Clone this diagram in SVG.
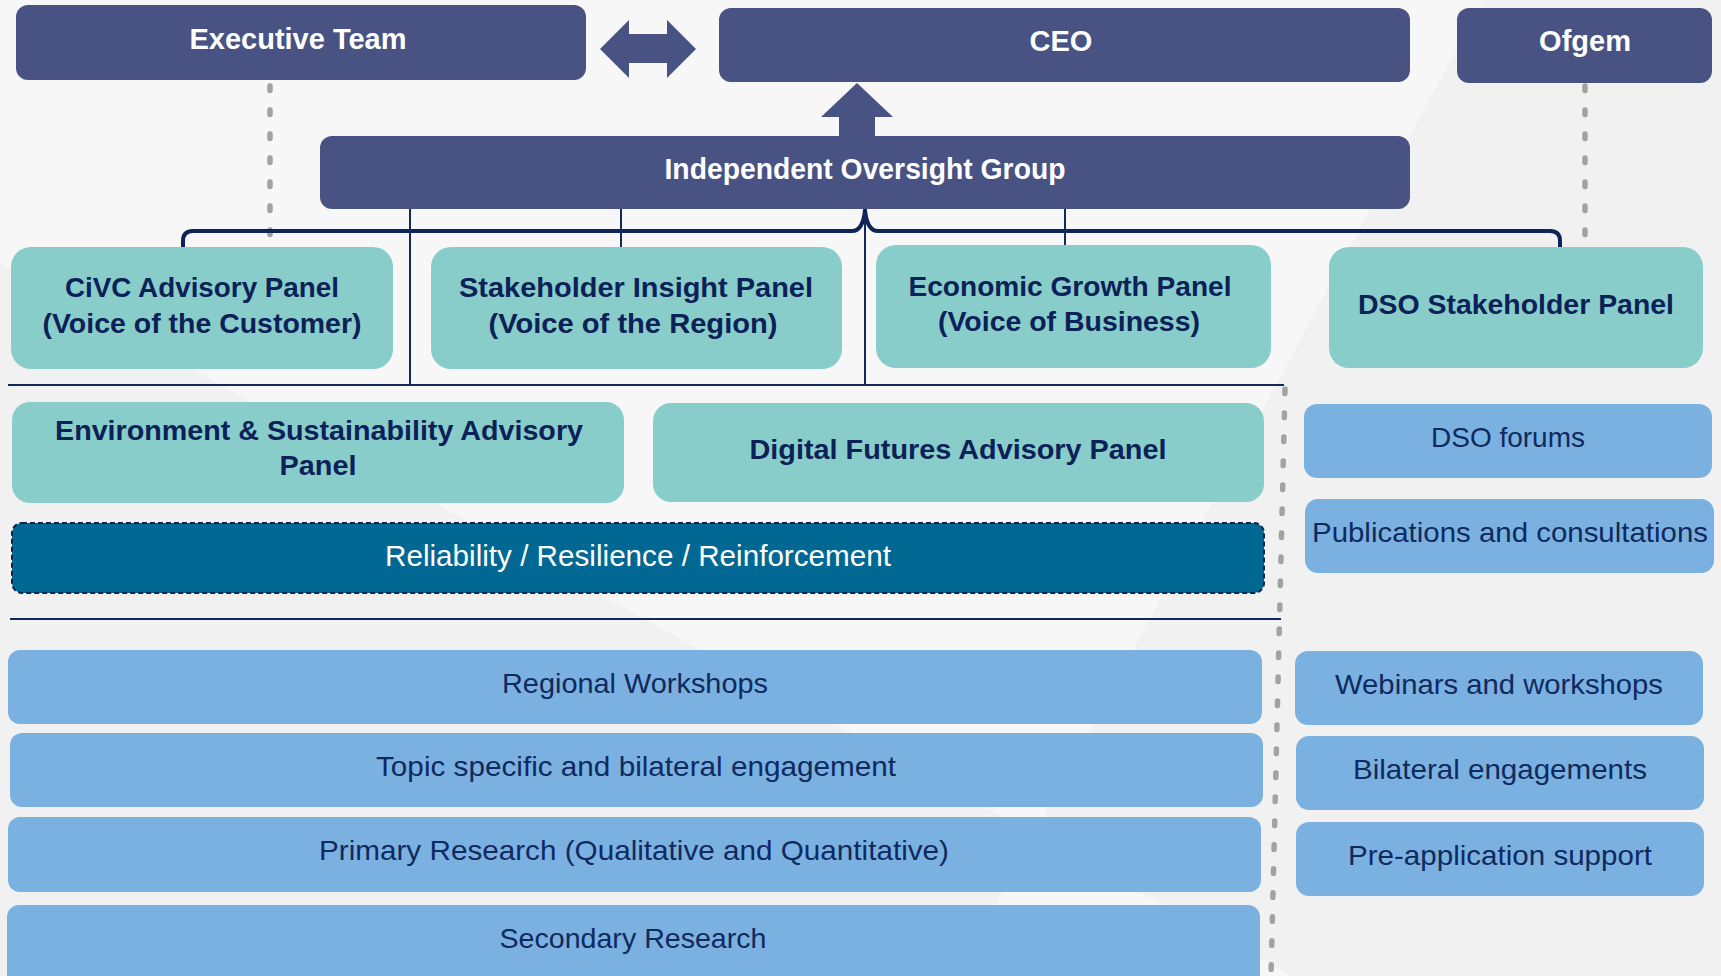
<svg xmlns="http://www.w3.org/2000/svg" width="1721" height="976" viewBox="0 0 1721 976">
  <style>
    .hdr { fill: #485383; }
    .teal { fill: #89cdca; }
    .sky { fill: #7bb1e0; }
    .t-hdr { font-family: "Liberation Sans", Arial, sans-serif; font-weight: bold; font-size: 29px; fill: #ffffff; text-anchor: middle; }
    .t-panel { font-family: "Liberation Sans", Arial, sans-serif; font-weight: bold; font-size: 28px; fill: #0b2157; text-anchor: middle; }
    .t-item { font-family: "Liberation Sans", Arial, sans-serif; font-size: 28px; fill: #0f2a5e; text-anchor: middle; }
    .t-rel { font-family: "Liberation Sans", Arial, sans-serif; font-size: 29px; fill: #ffffff; text-anchor: middle; }
    .link { fill: none; stroke: #12295c; stroke-width: 2; }
    .brace { fill: none; stroke: #0e2458; stroke-width: 4; stroke-linejoin: round; }
    .dots { fill: none; stroke: #a2a2a2; stroke-width: 5.5; stroke-linecap: round; stroke-dasharray: 4.5 19.5; }
  </style>

  <!-- background with soft diagonal panels -->
  <rect x="0" y="0" width="1721" height="976" fill="#f1f1f1"/>
  <polygon points="0,0 1483,0 1034,834 0,263" fill="#f7f7f7"/>
  <polygon points="1034,834 1292,976 958,976" fill="#f7f7f7"/>

  <!-- connectors -->
  <g id="connectors">
    <path class="dots" d="M270,86 L270,236"/>
    <path class="dots" d="M1585,86 L1585,236"/>
    <path class="dots" d="M1285,389 L1271,976"/>
    <path class="brace" d="M183,248 L183,241 Q183,231 193,231 L852,231 Q863,231 865,210 Q867,231 878,231 L1550,231 Q1560,231 1560,241 L1560,248"/>
    <path class="link" d="M410,209 L410,386"/>
    <path class="link" d="M621,209 L621,247"/>
    <path class="link" d="M1065,209 L1065,247"/>
    <path class="link" d="M865,212 L865,386"/>
    <path class="link" stroke-width="2.5" d="M8,385 L1284,385"/>
    <path class="link" stroke-width="2.5" d="M10,619 L1281,619"/>
    <polygon fill="#485383" points="600,49 629,20 629,34 667,34 667,20 696,49 667,78 667,63 629,63 629,78"/>
    <polygon fill="#485383" points="857,83 893,117 875,117 875,137 839,137 839,117 821,117"/>
  </g>

  <!-- leadership -->
  <g id="executive-team">
    <rect class="hdr" x="16" y="5" width="570" height="75" rx="12"/>
    <text class="t-hdr" x="298" y="49" textLength="217" lengthAdjust="spacingAndGlyphs">Executive Team</text>
  </g>
  <g id="ceo">
    <rect class="hdr" x="719" y="8" width="691" height="74" rx="12"/>
    <text class="t-hdr" x="1061" y="51">CEO</text>
  </g>
  <g id="ofgem">
    <rect class="hdr" x="1457" y="8" width="255" height="75" rx="12"/>
    <text class="t-hdr" x="1585" y="51">Ofgem</text>
  </g>
  <g id="independent-oversight-group">
    <rect class="hdr" x="320" y="136" width="1090" height="73" rx="12"/>
    <text class="t-hdr" x="865" y="179" textLength="401" lengthAdjust="spacingAndGlyphs">Independent Oversight Group</text>
  </g>

  <!-- advisory panels -->
  <g id="civc-panel">
    <rect class="teal" x="11" y="247" width="382" height="122" rx="20"/>
    <text class="t-panel" x="202" y="297" textLength="274" lengthAdjust="spacingAndGlyphs">CiVC Advisory Panel</text>
    <text class="t-panel" x="202" y="333" textLength="319" lengthAdjust="spacingAndGlyphs">(Voice of the Customer)</text>
  </g>
  <g id="stakeholder-insight-panel">
    <rect class="teal" x="431" y="247" width="411" height="122" rx="20"/>
    <text class="t-panel" x="636" y="297" textLength="354" lengthAdjust="spacingAndGlyphs">Stakeholder Insight Panel</text>
    <text class="t-panel" x="633" y="333" textLength="289" lengthAdjust="spacingAndGlyphs">(Voice of the Region)</text>
  </g>
  <g id="economic-growth-panel">
    <rect class="teal" x="876" y="245" width="395" height="123" rx="20"/>
    <text class="t-panel" x="1070" y="296" textLength="323" lengthAdjust="spacingAndGlyphs">Economic Growth Panel</text>
    <text class="t-panel" x="1069" y="331" textLength="262" lengthAdjust="spacingAndGlyphs">(Voice of Business)</text>
  </g>
  <g id="dso-stakeholder-panel">
    <rect class="teal" x="1329" y="247" width="374" height="121" rx="20"/>
    <text class="t-panel" x="1516" y="314" textLength="316" lengthAdjust="spacingAndGlyphs">DSO Stakeholder Panel</text>
  </g>
  <g id="environment-panel">
    <rect class="teal" x="12" y="402" width="612" height="101" rx="18"/>
    <text class="t-panel" x="319" y="440" textLength="528" lengthAdjust="spacingAndGlyphs">Environment &amp; Sustainability Advisory</text>
    <text class="t-panel" x="318" y="475" textLength="77" lengthAdjust="spacingAndGlyphs">Panel</text>
  </g>
  <g id="digital-futures-panel">
    <rect class="teal" x="653" y="403" width="611" height="99" rx="18"/>
    <text class="t-panel" x="958" y="459" textLength="417" lengthAdjust="spacingAndGlyphs">Digital Futures Advisory Panel</text>
  </g>
  <g id="reliability">
    <rect x="12" y="523" width="1252" height="70" rx="10" fill="#006892" stroke="#0c2548" stroke-width="2" stroke-dasharray="5 3"/>
    <text class="t-rel" x="638" y="566" textLength="506" lengthAdjust="spacingAndGlyphs">Reliability / Resilience / Reinforcement</text>
  </g>

  <!-- engagement channels -->
  <g id="regional-workshops">
    <rect class="sky" x="8" y="650" width="1254" height="74" rx="12"/>
    <text class="t-item" x="635" y="693" textLength="266" lengthAdjust="spacingAndGlyphs">Regional Workshops</text>
  </g>
  <g id="topic-engagement">
    <rect class="sky" x="10" y="733" width="1253" height="74" rx="12"/>
    <text class="t-item" x="636" y="776" textLength="520" lengthAdjust="spacingAndGlyphs">Topic specific and bilateral engagement</text>
  </g>
  <g id="primary-research">
    <rect class="sky" x="8" y="817" width="1253" height="75" rx="12"/>
    <text class="t-item" x="634" y="860" textLength="630" lengthAdjust="spacingAndGlyphs">Primary Research (Qualitative and Quantitative)</text>
  </g>
  <g id="secondary-research">
    <rect class="sky" x="7" y="905" width="1253" height="90" rx="12"/>
    <text class="t-item" x="633" y="948" textLength="267" lengthAdjust="spacingAndGlyphs">Secondary Research</text>
  </g>

  <g id="dso-forums">
    <rect class="sky" x="1304" y="404" width="408" height="74" rx="13"/>
    <text class="t-item" x="1508" y="447">DSO forums</text>
  </g>
  <g id="publications">
    <rect class="sky" x="1305" y="499" width="409" height="74" rx="13"/>
    <text class="t-item" x="1510" y="542" textLength="396" lengthAdjust="spacingAndGlyphs">Publications and consultations</text>
  </g>
  <g id="webinars">
    <rect class="sky" x="1295" y="651" width="408" height="74" rx="13"/>
    <text class="t-item" x="1499" y="694" textLength="328" lengthAdjust="spacingAndGlyphs">Webinars and workshops</text>
  </g>
  <g id="bilateral-engagements">
    <rect class="sky" x="1296" y="736" width="408" height="74" rx="13"/>
    <text class="t-item" x="1500" y="779" textLength="294" lengthAdjust="spacingAndGlyphs">Bilateral engagements</text>
  </g>
  <g id="pre-application">
    <rect class="sky" x="1296" y="822" width="408" height="74" rx="13"/>
    <text class="t-item" x="1500" y="865" textLength="304" lengthAdjust="spacingAndGlyphs">Pre-application support</text>
  </g>
</svg>
